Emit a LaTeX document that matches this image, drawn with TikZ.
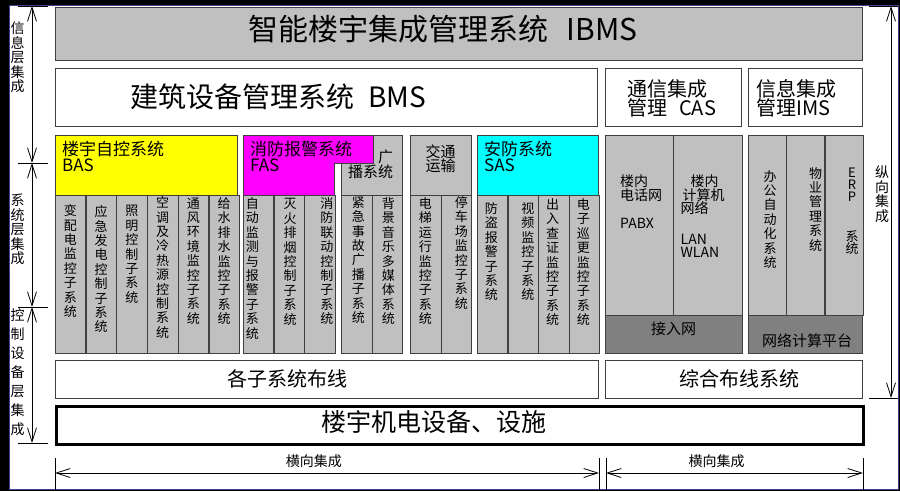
\documentclass[tikz,border=0pt]{standalone}
\usepackage{fontspec}
\setmainfont{Noto Sans CJK SC}
\usetikzlibrary{arrows.meta}
\usetikzlibrary{positioning}
\definecolor{boxgray}{HTML}{C0C0C0}
\definecolor{netgray}{HTML}{808080}
\definecolor{framenavy}{HTML}{404090}
\definecolor{basyellow}{HTML}{FFFF00}
\definecolor{faspink}{HTML}{FF00FF}
\definecolor{sascyan}{HTML}{00FFFF}
\tikzstyle{base} = [rectangle, draw=black!75, inner sep=0pt, anchor=north west]
\tikzstyle{whitebox} = [base, fill=white]
\tikzstyle{col} = [base, fill=boxgray, minimum height=158pt]
\tikzstyle{sub} = [base, fill=boxgray, minimum height=180pt]
\tikzstyle{net} = [base, fill=netgray, minimum height=38pt]
\tikzstyle{txt} = [inner sep=0pt]
\tikzstyle{headtext} = [txt, anchor=north west, align=left, font=\fontsize{17}{16}\selectfont]
\tikzstyle{coltext} = [txt, anchor=north, align=center, font=\fontsize{13}{14.4}\selectfont]
\tikzstyle{subtext} = [txt, anchor=north west, align=left, font=\fontsize{14}{13.5}\selectfont]
\tikzstyle{axistext} = [txt, anchor=north, align=center, font=\fontsize{14}{14.4}\selectfont]
\tikzstyle{axis} = [line width=0.8pt]
% stack the characters of a word one below the other
\makeatletter
\def\vtxt#1{\vtxt@a#1\@nil}
\def\vtxt@a#1#2\@nil{#1\ifx\relax#2\relax\else\\\vtxt@a#2\@nil\fi}
\makeatother
\begin{document}
\begin{tikzpicture}[x=1pt, y=-1pt, node distance=0pt, >={Straight Barb[length=14pt,width=9pt]}]
  \useasboundingbox (0,0) rectangle (900,491);
  \fill[black] (0,0) rectangle (900,491);
  \draw[framenavy, fill=white] (9,5) rectangle (898,489);

  % top layers
  \node (ibms) [base, fill=boxgray, minimum width=807, minimum height=53] at (55,7) {};
  \node (ibmstext) [txt, font=\fontsize{30}{30}\selectfont] at (443,29) {智能楼宇集成管理系统\hspace{18pt}IBMS};
  \node (bms) [whitebox, minimum width=542, minimum height=58] at (55,68) {};
  \node (bmstext) [txt, anchor=west, font=\fontsize{28}{28}\selectfont] at ([xshift=75]bms.west) {建筑设备管理系统\hspace{14pt}BMS};
  \node (cas) [whitebox, minimum width=136, minimum height=58] at (605,68) {};
  \node (castext) [headtext, font=\fontsize{20}{18}\selectfont] at ([shift={(22,11)}]cas.north west) {通信集成\\管理\hspace{12pt}CAS};
  \node (ims) [whitebox, minimum width=114, minimum height=58] at (748,68) {};
  \node (imstext) [headtext, font=\fontsize{20}{18}\selectfont] at ([shift={(8,11)}]ims.north west) {信息集成\\管理IMS};

  % BAS
  \node (bas) [base, fill=basyellow, minimum width=182, minimum height=60] at (55,135) {};
  \node (bastext) [headtext] at ([shift={(7,6)}]bas.north west) {楼宇自控系统\\BAS};
  \node (bas1) [col, minimum width=30.33] at (bas.south west) {};
  \node (bas2) [col, minimum width=30.33, right=of bas1] {};
  \node (bas3) [col, minimum width=30.33, right=of bas2] {};
  \node (bas4) [col, minimum width=30.33, right=of bas3] {};
  \node (bas5) [col, minimum width=30.33, right=of bas4] {};
  \node (bas6) [col, minimum width=30.33, right=of bas5] {};
  \node (bas1text) [coltext] at ([yshift=-9]bas1.north) {\vtxt{变配电监控子系统}};
  \node (bas2text) [coltext] at ([yshift=-10]bas2.north) {\vtxt{应急发电控制子系统}};
  \node (bas3text) [coltext] at ([yshift=-10]bas3.north) {\vtxt{照明控制子系统}};
  \node (bas4text) [coltext] at ([yshift=-1]bas4.north) {\vtxt{空调及冷热源控制系统}};
  \node (bas5text) [coltext] at ([yshift=-2]bas5.north) {\vtxt{通风环境监控子系统}};
  \node (bas6text) [coltext] at ([yshift=-2]bas6.north) {\vtxt{给水排水监控子系统}};

  % broadcast, FAS
  \node (bch) [base, fill=boxgray, minimum width=61, minimum height=60] at (341,135) {};
  \node (fas) [base, draw=none, minimum width=91, minimum height=60] at (243,135) {};
  \draw[draw=black!75, fill=faspink] (fas.north west) -- ++(130,0) -- ++(0,28) -| (fas.south east) -- (fas.south west) -- cycle;
  \node (fastext) [headtext] at ([shift={(7,6)}]fas.north west) {消防报警系统\\FAS};
  \node (bchtext) [txt, anchor=north east, align=right, font=\fontsize{15}{15}\selectfont] at ([shift={(-9,15)}]bch.north east) {广\\播系统};
  \node (fas1) [col, minimum width=30.33] at (fas.south west) {};
  \node (fas2) [col, minimum width=30.33, right=of fas1] {};
  \node (fas3) [col, minimum width=30.33, right=of fas2] {};
  \node (bc1) [col, minimum width=30.5] at (bch.south west) {};
  \node (bc2) [col, minimum width=30.5, right=of bc1] {};
  \node (fas1text) [coltext] at ([shift={(-6,2)}]fas1.north) {\vtxt{自动监测与报警子系统}};
  \node (fas2text) [coltext] at ([shift={(1,3)}]fas2.north) {\vtxt{灭火排烟控制子系统}};
  \node (fas3text) [coltext] at ([shift={(7,2)}]fas3.north) {\vtxt{消防联动控制子系统}};
  \node (bc1text) [coltext] at ([shift={(2,1)}]bc1.north) {\vtxt{紧急事故广播子系统}};
  \node (bc2text) [coltext] at ([shift={(1,2)}]bc2.north) {\vtxt{背景音乐多媒体系统}};

  % traffic
  \node (trh) [base, fill=boxgray, minimum width=61, minimum height=60] at (410,135) {};
  \node (trhtext) [txt, align=center, font=\fontsize{15}{14}\selectfont] at ([yshift=6]trh.center) {交通\\运输};
  \node (tr1) [col, minimum width=30.5] at (trh.south west) {};
  \node (tr2) [col, minimum width=30.5, right=of tr1] {};
  \node (tr1text) [coltext] at ([yshift=-2]tr1.north) {\vtxt{电梯运行监控子系统}};
  \node (tr2text) [coltext] at ([shift={(5,1)}]tr2.north) {\vtxt{停车场监控子系统}};

  % SAS
  \node (sas) [base, fill=sascyan, minimum width=121, minimum height=60] at (477,135) {};
  \node (sastext) [headtext] at ([shift={(7,6)}]sas.north west) {安防系统\\SAS};
  \node (sas1) [col, minimum width=30.25] at (sas.south west) {};
  \node (sas2) [col, minimum width=30.25, right=of sas1] {};
  \node (sas3) [col, minimum width=30.25, right=of sas2] {};
  \node (sas4) [col, minimum width=30.25, right=of sas3] {};
  \node (sas1text) [coltext] at ([shift={(-1,7)}]sas1.north) {\vtxt{防盗报警子系统}};
  \node (sas2text) [coltext] at ([shift={(5,7)}]sas2.north) {\vtxt{视频监控子系统}};
  \node (sas3text) [coltext] at ([shift={(-1,3)}]sas3.north) {\vtxt{出入查证监控子系统}};
  \node (sas4text) [coltext] at ([shift={(-1,3)}]sas4.north) {\vtxt{电子巡更监控子系统}};

  % CAS, IMS
  \node (cas1) [sub, minimum width=68] at (605,135) {};
  \node (cas2) [sub, minimum width=69, right=of cas1] {};
  \node (casnet) [net, minimum width=137] at (cas1.south west) {};
  \node (casnettext) [txt, font=\fontsize{15}{15}\selectfont] at ([yshift=6]casnet.center) {接入网};
  \node (cas1text) [subtext] at ([shift={(15,40)}]cas1.north west) {楼内\\电话网\\[15pt]PABX};
  \node (cas2text) [subtext] at ([shift={(7,40)}]cas2.north west) {\hspace*{10pt}楼内\\\hspace*{2pt}计算机\\网络\\[17pt]LAN\\WLAN};
  \node (ims1) [sub, minimum width=38] at (748,135) {};
  \node (ims2) [sub, minimum width=38, right=of ims1] {};
  \node (ims3) [sub, minimum width=38, right=of ims2] {};
  \node (imsnet) [net, minimum width=114] at (ims1.south west) {};
  \node (imsnettext) [txt, font=\fontsize{15}{15}\selectfont] at ([shift={(2,6)}]imsnet.center) {网络计算平台};
  \node (ims1text) [coltext] at ([shift={(3,35)}]ims1.north) {\vtxt{办公自动化系统}};
  \node (ims2text) [coltext] at ([shift={(10,32)}]ims2.north) {\vtxt{物业管理系统}};
  \node (ims3text) [coltext, font=\fontsize{13}{12}\selectfont] at ([shift={(8,33)}]ims3.north) {E\\R\\P\\[28pt]系\\统};

  % wiring and equipment
  \node (wire) [whitebox, minimum width=543, minimum height=38] at (55,360) {};
  \node (wiretext) [txt, font=\fontsize{20}{20}\selectfont] at ([xshift=-39]wire.center) {各子系统布线};
  \node (gcs) [whitebox, minimum width=257, minimum height=38] at (605,360) {};
  \node (gcstext) [txt, font=\fontsize{20}{20}\selectfont] at ([xshift=6]gcs.center) {综合布线系统};
  \node (equip) [base, draw=black, line width=2.5pt, minimum width=807, minimum height=38] at (55,405) {};
  \node (equiptext) [txt, font=\fontsize{25}{25}\selectfont] at ([shift={(-26,-3)}]equip.center) {楼宇机电设备、设施};

  % left axis
  \coordinate (l0) at (32,6);
  \coordinate (l1) at (32,163);
  \coordinate (l2) at (32,307);
  \coordinate (l3) at (32,443);
  \draw[axis, <->] (l0) -- (l1);
  \draw[axis, <->] (l1) -- (l2);
  \draw[axis, <->] (l2) -- (l3);
  \draw[axis] ([xshift=-14]l0) -- ([xshift=16]l0);
  \draw[axis] ([xshift=-14]l1) -- ([xshift=16]l1);
  \draw[axis] ([xshift=-14]l2) -- ([xshift=16]l2);
  \draw[axis] ([xshift=-14]l3) -- ([xshift=16]l3);
  \node (infotext) [axistext] at (17.5,22) {\vtxt{信息层集成}};
  \node (systext) [axistext] at (17.5,194) {\vtxt{系统层集成}};
  \node (ctrltext) [axistext, font=\fontsize{14}{19}\selectfont] at (17.5,309) {\vtxt{控制设备层集成}};

  % right axis
  \coordinate (r0) at (891,6);
  \coordinate (r1) at (891,398);
  \draw[axis, <->] (r0) -- (r1);
  \draw[axis] ([xshift=-22]r0) -- ([xshift=7]r0);
  \draw[axis] ([xshift=-22]r1) -- ([xshift=7]r1);
  \node (vtext) [axistext] at (882,166) {\vtxt{纵向集成}};

  % bottom axis
  \coordinate (b1) at (55,473);
  \coordinate (b2) at (599,473);
  \coordinate (b3) at (606,473);
  \coordinate (b4) at (863,473);
  \draw[axis, <->] (b1) -- node[txt, pos=0.476, above=5pt, font=\fontsize{14}{14}\selectfont] {横向集成} (b2);
  \draw[axis, <->] (b3) -- node[txt, pos=0.43, above=5pt, font=\fontsize{14}{14}\selectfont] {横向集成} (b4);
  \draw[axis] ([yshift=15]b1) -- ([yshift=-17]b1);
  \draw[axis] ([yshift=15]b2) -- ([yshift=-17]b2);
  \draw[axis] ([yshift=15]b3) -- ([yshift=-17]b3);
  \draw[axis] ([yshift=15]b4) -- ([yshift=-17]b4);
\end{tikzpicture}
\end{document}
